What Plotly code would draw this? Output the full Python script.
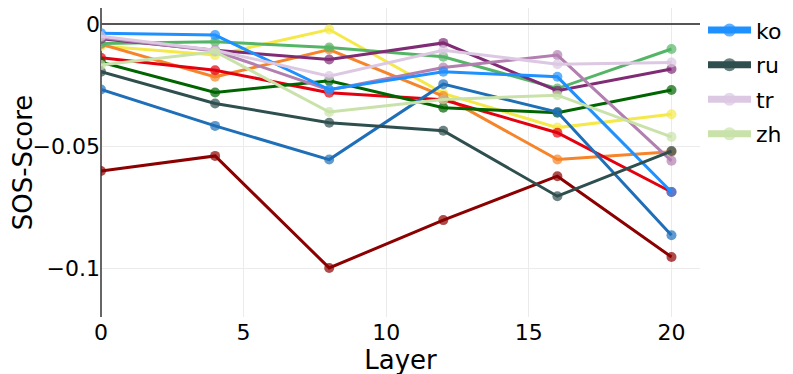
import plotly.graph_objects as go

# layers on the x axis
layers = [0, 4, 8, 12, 16, 20]

# SOS-Score per layer, one list per series
yellow_vals = [-0.009, -0.0127, -0.0022, -0.0284, -0.0424, -0.0369]
orange_vals = [-0.0082, -0.0216, -0.0104, -0.0295, -0.0555, -0.0523]
red_vals = [-0.0138, -0.0189, -0.0281, -0.031, -0.0445, -0.0688]
green_vals = [-0.0079, -0.0072, -0.0096, -0.0134, -0.0264, -0.0102]
darkgreen_vals = [-0.0156, -0.028, -0.0232, -0.0343, -0.0363, -0.027]
purple_vals = [-0.006, -0.0107, -0.0145, -0.0077, -0.0273, -0.0184]
mauve_vals = [-0.0055, -0.011, -0.027, -0.0178, -0.0127, -0.056]
steelblue_vals = [-0.0268, -0.0417, -0.0555, -0.0246, -0.036, -0.0865]
darkred_vals = [-0.0602, -0.054, -0.0999, -0.0803, -0.0623, -0.0954]
ko_vals = [-0.0037, -0.0045, -0.0268, -0.0195, -0.0216, -0.0688]
ru_vals = [-0.0195, -0.0325, -0.0404, -0.0437, -0.0705, -0.052]
tr_vals = [-0.005, -0.0107, -0.0213, -0.0107, -0.0164, -0.0157]
zh_vals = [-0.0168, -0.0113, -0.036, -0.0309, -0.0291, -0.0462]

# (name, values, colour) - only the last four get a legend entry
series = [
    ('s1', yellow_vals, '#F5E94A'),
    ('s2', orange_vals, '#F5842A'),
    ('s3', red_vals, '#E3000F'),
    ('s4', green_vals, '#55B567'),
    ('s5', darkgreen_vals, '#006400'),
    ('s6', purple_vals, '#7F2C75'),
    ('s7', mauve_vals, '#B27FB0'),
    ('s8', steelblue_vals, '#1F6FB8'),
    ('s9', darkred_vals, '#8B0000'),
    ('ko', ko_vals, '#1E90FF'),
    ('ru', ru_vals, '#2F4F4F'),
    ('tr', tr_vals, '#DCC8E3'),
    ('zh', zh_vals, '#C9E2A9'),
]
legend_names = ['ko', 'ru', 'tr', 'zh']

fig = go.Figure()

for name, vals, color in series:
    fig.add_trace(go.Scatter(
        x=layers,
        y=vals,
        mode='lines+markers',
        name=name,
        line=dict(color=color, width=3),
        marker=dict(color=color, size=10, opacity=0.7),
        showlegend=False,
    ))

# legend-only entries, drawn thicker than the plotted lines
for name, vals, color in series:
    if name in legend_names:
        fig.add_trace(go.Scatter(
            x=[None],
            y=[None],
            mode='lines+markers',
            name=name,
            legendgroup=name,
            line=dict(color=color, width=7),
            marker=dict(color=color, size=13, opacity=0.7),
        ))

fig.update_layout(
    template='none',
    width=793,
    height=374,
    autosize=False,
    margin=dict(l=93, r=101, t=0, b=65, autoexpand=False),
    font=dict(family='DejaVu Sans', size=22, color='black'),
    plot_bgcolor='white',
    paper_bgcolor='white',
    legend=dict(
        x=1.005, xanchor='left', y=0.996, yanchor='top',
        font=dict(size=22),
        itemwidth=43,
        tracegroupgap=3,
    ),
    xaxis=dict(
        title=dict(text='Layer', font=dict(size=26), standoff=0),
        range=[0, 21],
        dtick=5,
        tick0=0,
        showgrid=True,
        gridcolor='#ebebeb',
        zeroline=True,
        zerolinecolor='#666666',
        zerolinewidth=2,
        automargin=False,
    ),
    yaxis=dict(
        title=dict(text='SOS-Score', font=dict(size=26), standoff=3),
        range=[-0.12, 0.0066],
        dtick=0.05,
        tick0=0,
        showgrid=True,
        gridcolor='#ebebeb',
        zeroline=True,
        zerolinecolor='#555555',
        zerolinewidth=2,
        automargin=False,
    ),
)

fig.write_html("out.html")
